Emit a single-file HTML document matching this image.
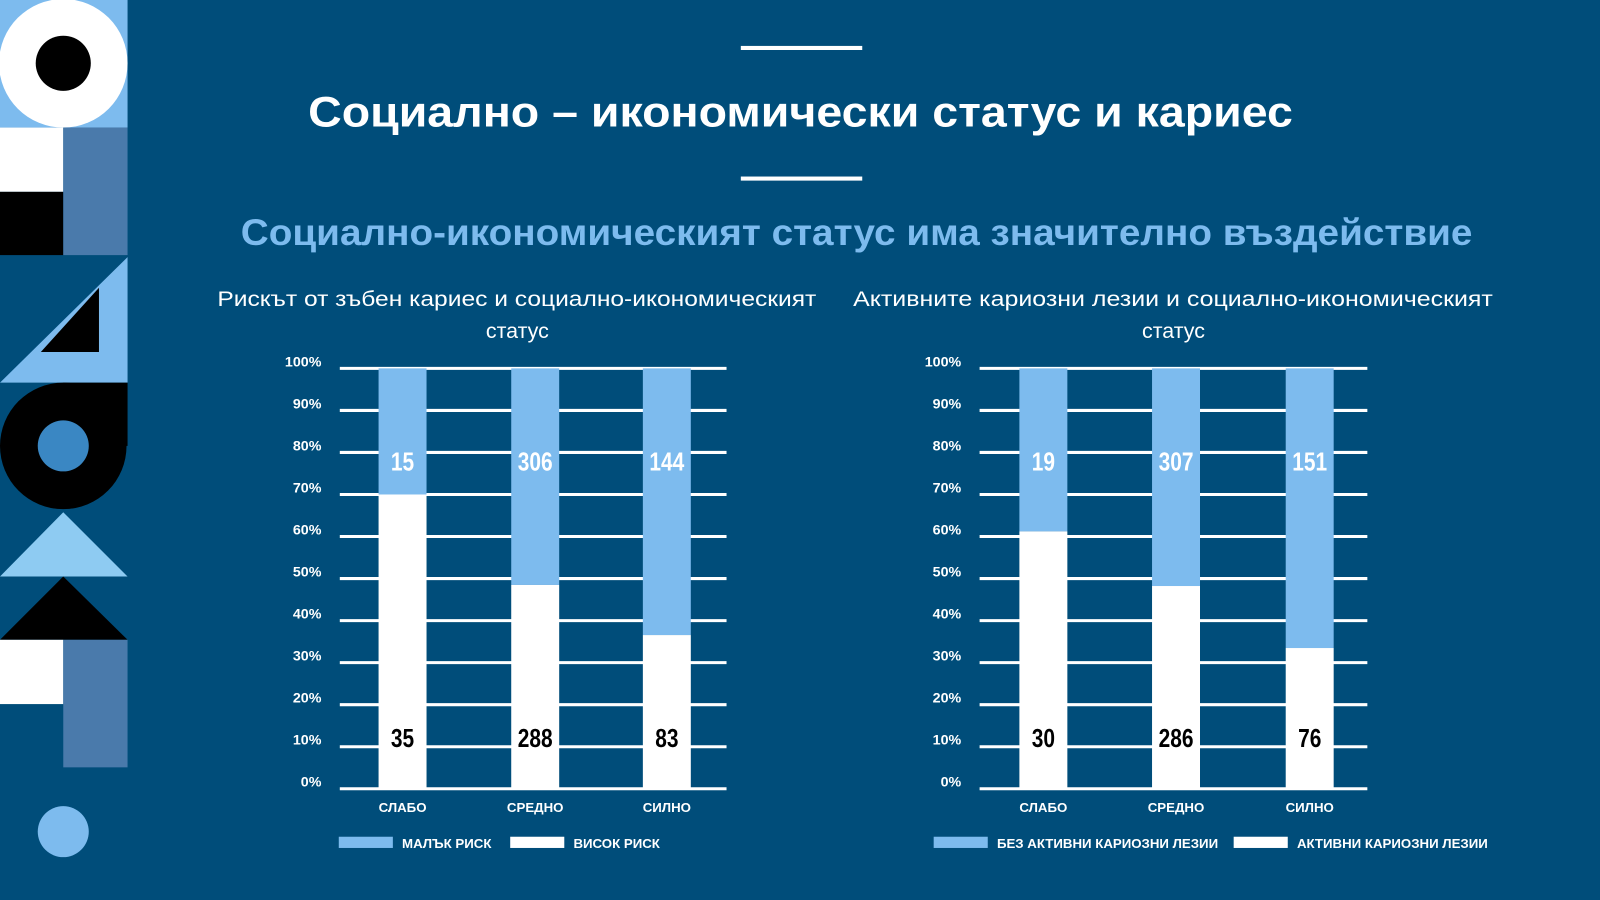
<!DOCTYPE html>
<html><head><meta charset="utf-8">
<style>
html,body{margin:0;padding:0;background:#004d7a;overflow:hidden}
#wrap{width:1568px;height:882px;transform:scale(1.02041);transform-origin:0 0;position:relative}
svg text{font-family:"Liberation Sans",sans-serif}
</style></head><body>
<div id="wrap">
<svg id="s" width="1568" height="882" viewBox="0 0 1568 882" xmlns="http://www.w3.org/2000/svg">
<rect width="1568" height="882" fill="#004d7a"/>
<g>
<rect x="0" y="0" width="125" height="125" fill="#7dbbee"/>
<ellipse cx="62" cy="62" rx="63" ry="63" fill="#fff"/>
<circle cx="62" cy="62" r="27" fill="#000"/>
<rect x="0" y="125" width="62" height="63" fill="#fff"/>
<rect x="0" y="188" width="62" height="62" fill="#000"/>
<rect x="62" y="125" width="63" height="125" fill="#4a7aab"/>
<polygon points="125,252 125,375 0,375" fill="#7dbbee"/>
<polygon points="97,282 97,345 40,345" fill="#000"/>
<circle cx="62" cy="437" r="62" fill="#000"/>
<rect x="62" y="375" width="63" height="62" fill="#000"/>
<circle cx="62" cy="437" r="25" fill="#3a87c3"/>
<polygon points="62,502 0,565 125,565" fill="#8ecbf2"/>
<polygon points="62,565 0,627 125,627" fill="#000"/>
<rect x="0" y="627" width="62" height="63" fill="#fff"/>
<rect x="62" y="627" width="63" height="125" fill="#4a7aab"/>
<circle cx="62" cy="815" r="25" fill="#7dbbee"/>
</g>
<rect x="726" y="45" width="119" height="4" fill="#fff"/>
<rect x="726" y="173" width="119" height="4" fill="#fff"/>
<text x="302" y="124" textLength="965" lengthAdjust="spacingAndGlyphs" font-size="42" font-weight="bold" fill="#fff">Социално – икономически статус и кариес</text>
<text x="236" y="240" textLength="1207" lengthAdjust="spacingAndGlyphs" font-size="36" font-weight="bold" fill="#7dbbee">Социално-икономическият статус има значително въздействие</text>
<text x="213" y="300" textLength="587" lengthAdjust="spacingAndGlyphs" font-size="21" fill="#fff">Рискът от зъбен кариес и социално-икономическият</text>
<text x="507" y="331" text-anchor="middle" font-size="21" fill="#fff">статус</text>
<text x="836" y="300" textLength="627" lengthAdjust="spacingAndGlyphs" font-size="21" fill="#fff">Активните кариозни лезии и социално-икономическият</text>
<text x="1150" y="331" text-anchor="middle" font-size="21" fill="#fff">статус</text>
</svg>
</div>
<script>
const categories = ["СЛАБО","СРЕДНО","СИЛНО"];
const chart1Low = [15,306,144];
const chart1High = [35,288,83];
const chart2None = [19,307,151];
const chart2Active = [30,286,76];
const yTicks = ["0%","10%","20%","30%","40%","50%","60%","70%","80%","90%","100%"];
const legend1 = ["МАЛЪК РИСК","ВИСОК РИСК"];
const legend2 = ["БЕЗ АКТИВНИ КАРИОЗНИ ЛЕЗИИ","АКТИВНИ КАРИОЗНИ ЛЕЗИИ"];

const NS="http://www.w3.org/2000/svg";
const svg=document.getElementById('s');
function mk(tag,attrs,parent){const e=document.createElementNS(NS,tag);for(const k in attrs)e.setAttribute(k,attrs[k]);(parent||svg).appendChild(e);return e;}
const y0=773,y1=361;
function yScale(f){return y0-(y0-y1)*f;}

function drawChart(prefix,x0,x1,barX,topVals,botVals,leg,legX){
  const g=mk('g',{});
  
  
  yTicks.forEach((t,i)=>{
    const y=yScale(i/(yTicks.length-1));
    const l=mk('line',{x1:x0,x2:x1,y1:y,y2:y,stroke:'#fff','stroke-width':3},g);
    
    
    const tx=mk('text',{x:x0-18,y:y-2,'text-anchor':'end','font-size':14,'font-weight':'bold',fill:'#fff'},g);
    tx.textContent=t;
    
    
  });
  const bw=47;
  categories.forEach((c,i)=>{
    const tot=topVals[i]+botVals[i];
    const f=botVals[i]/tot;
    const bx=barX[i];
    const rt=mk('rect',{x:bx,y:y1,width:bw,height:yScale(f)-y1,fill:'#7dbbee'},g);
    
    
    const rb=mk('rect',{x:bx,y:yScale(f),width:bw,height:y0-yScale(f),fill:'#fff'},g);
    
    
    const cx=bx+bw/2;
    const t1=mk('text',{x:0,y:0,'text-anchor':'middle','font-size':25,'font-weight':'bold',fill:'#fff',transform:'translate('+cx+',461) scale(0.82,1)'},g);
    t1.textContent=topVals[i];
    
    
    const t2=mk('text',{x:0,y:0,'text-anchor':'middle','font-size':25,'font-weight':'bold',fill:'#000',transform:'translate('+cx+',732) scale(0.82,1)'},g);
    t2.textContent=botVals[i];
    
    
    const cl=mk('text',{x:cx,y:796,'text-anchor':'middle','font-size':13,'font-weight':'bold',fill:'#fff'},g);
    cl.textContent=c;
    
    
  });
  const cols=['#7dbbee','#fff'];
  leg.forEach((name,i)=>{
    const lx=legX[i];
    const r=mk('rect',{x:lx,y:820,width:53,height:11,fill:cols[i]},g);
    
    
    const t=mk('text',{x:lx+62,y:831,'font-size':13,'font-weight':'bold',fill:'#fff'},g);
    t.textContent=name;
    
    
  });
}
drawChart('chart1',333,712,[371,501,630],chart1Low,chart1High,legend1,[332,500]);
drawChart('chart2',960,1340,[999,1129,1260],chart2None,chart2Active,legend2,[915,1209]);
</script>
</body></html>
